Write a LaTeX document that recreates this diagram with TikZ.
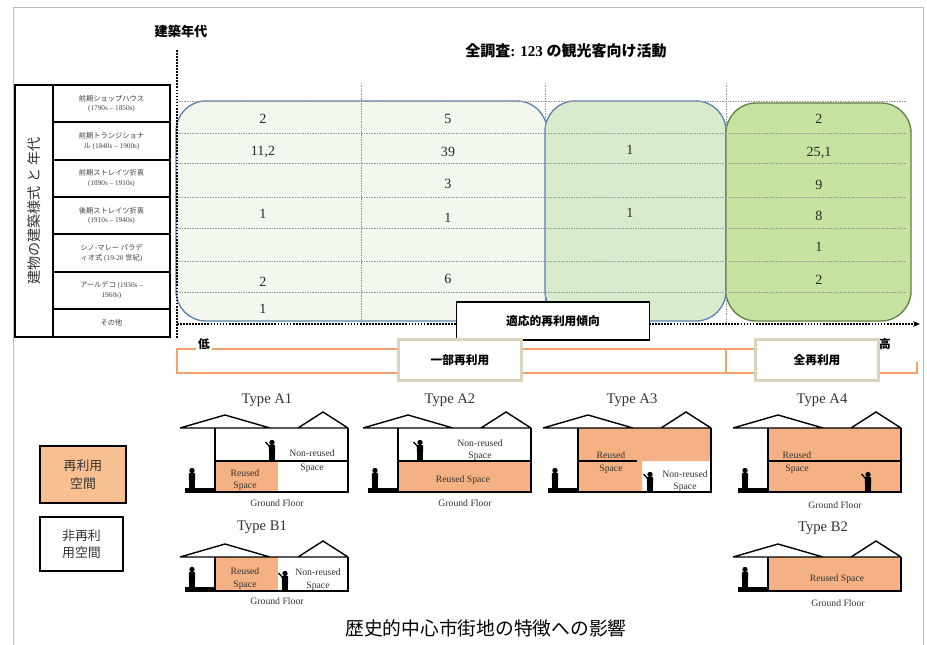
\documentclass[tikz,border=0pt]{standalone}
\usepackage{fontspec}
\setmainfont{Liberation Serif}
\newfontfamily\jp{Noto Sans CJK JP}
\usetikzlibrary{arrows.meta}

\definecolor{pale}{HTML}{F3F8EF}
\definecolor{midgreen}{HTML}{D9EBCD}
\definecolor{fullgreen}{HTML}{C6E3A2}
\definecolor{boxblue}{HTML}{5B80AC}
\definecolor{boxdark}{HTML}{5E8040}
\definecolor{reuse}{HTML}{F4B183}
\definecolor{reusekey}{HTML}{F8C090}
\definecolor{bracket}{HTML}{F3A46C}
\definecolor{beige}{HTML}{D9D4BF}
\definecolor{framegray}{HTML}{BDBDBD}

\begin{document}
\begin{tikzpicture}[x=0.03cm, y=-0.03cm,
    zone/.style={rounded corners=0.9cm, line width=1.1pt},
    gridline/.style={black!40, line width=0.6pt, dash pattern=on 0.7pt off 0.7pt},
    axis/.style={line width=2.3pt, dash pattern=on 1.5pt off 1.1pt},
    count/.style={font=\fontsize{12}{14}\selectfont, text=black!85},
    rowcell/.style={draw, line width=1.6pt, minimum width=3.51cm, minimum height=1.12cm, align=center, text=black!75, inner sep=1pt, font=\fontsize{6.2}{8.2}\selectfont},
    tag/.style={draw=beige, line width=1.8pt, fill=white, minimum width=3.69cm, minimum height=1.23cm, font=\jp\bfseries\fontsize{10}{12}\selectfont},
    key/.style={draw, line width=1.8pt, align=center, font=\jp\fontsize{11}{15}\selectfont, text=black!80},
    typelabel/.style={font=\fontsize{12.5}{14}\selectfont, text=black!80},
    note/.style={font=\fontsize{8.3}{8.6}\selectfont, text=black!80, align=center, inner sep=0pt},
    wall/.style={line width=1.6pt},
    roof/.style={line width=1.2pt},
    roofline/.pic={
        \draw[roof] (0,0) -- (45,-13) -- (90,0) (118,0) -- (143,-16) -- (168,0) (0,0) -- (168,0);
    },
    person/.pic={
        \fill (0,-17.5) circle (2.7);
        \fill[rounded corners=0.6pt] (-3.2,-14.8) rectangle (3.2,-7);
        \fill (-2.8,-7.5) rectangle (-0.4,0);
        \fill (0.4,-7.5) rectangle (2.8,0);
    },
    waver/.pic={
        \fill (0,-17.5) circle (2.7);
        \fill[rounded corners=0.6pt] (-3.2,-14.8) rectangle (3.2,-7);
        \fill (-2.8,-7.5) rectangle (-0.4,0);
        \fill (0.4,-7.5) rectangle (2.8,0);
        \draw[line width=1.1pt] (-2.4,-13.5) -- (-6.5,-18);
    }
]
\useasboundingbox (0,0) rectangle (927,644);

% page frame
\draw[framegray, line width=0.8pt] (13,660) -- (13,7) -- (923,7) -- (923,660);

% headings
\node[font=\jp\bfseries\fontsize{11.3}{13}\selectfont] (era) at (181,31) {建築年代};
\node[font=\fontsize{12.8}{15}\selectfont\bfseries] (survey) at (566,51)
    {{\jp 全調査}: 123 {\jp の観光客向け活動}};

% reuse zones
\draw[zone, fill=pale, draw=boxblue] (176,101) rectangle (547,321);
\draw[zone, fill=midgreen, draw=boxblue] (545,101) rectangle (726,321);
\draw[zone, fill=fullgreen, draw=boxdark] (726,103) rectangle (911,321);

% grid
\foreach \y in {101,133,163,197,228,261,292}
    \draw[gridline] (177,\y) -- (906,\y);
\foreach \x in {361,545,726}
    \draw[gridline] (\x,83) -- (\x,324);

% axes
\coordinate (origin) at (177,324);
\coordinate (ytop) at (177,50);
\coordinate (ybot) at (177,338);
\coordinate (xend) at (920,324);
\draw[axis] (ybot) -- (ytop);
\draw[axis, -{Stealth[length=6pt, width=5pt]}] (origin) -- (xend);

% counts per column
\foreach \n/\y/\v in {a/119/2, b/152/{11,2}, d/214/1, f/282/2, g/309/1}
    \node[count] (low\n) at (263,\y) {\v};
\foreach \n/\y/\v in {a/119/5, b/152/39, c/184/3, d/218/1, f/279/6}
    \node[count] (mid\n) at (448,\y) {\v};
\foreach \n/\y/\v in {b/150/1, d/213/1}
    \node[count] (upp\n) at (630,\y) {\v};
\foreach \n/\y/\v in {a/119/2, b/153/{25,1}, c/185/9, d/216/8, e/247/1, f/280/2}
    \node[count] (top\n) at (819,\y) {\v};

% building styles
\node[draw, line width=1.6pt, rotate=90, minimum width=7.56cm, minimum height=1.14cm,
    font=\jp\fontsize{12}{14}\selectfont, text=black!80] (stylecol) at (34,211) {建物の建築様式 と 年代};
\node[rowcell] (row1) at (111.5,103.7) {{\jp 前期ショップハウス}\\(1790s – 1850s)};
\node[rowcell] (row2) at (111.5,141) {{\jp 前期トランジショナ}\\{\jp ル} (1840s – 1900s)};
\node[rowcell] (row3) at (111.5,178.3) {{\jp 前期ストレイツ折衷}\\(1890s – 1910s)};
\node[rowcell] (row4) at (111.5,215.7) {{\jp 後期ストレイツ折衷}\\(1910s – 1940s)};
\node[rowcell] (row5) at (111.5,253) {{\jp シノ-マレー パラデ}\\{\jp ィオ式} (19-20 {\jp 世紀})};
\node[rowcell] (row6) at (111.5,290.3) {{\jp アールデコ} (1930s –\\1960s)};
\node[rowcell, minimum height=0.84cm] (row7) at (111.5,323) {{\jp その他}};

% reuse scale
\draw[bracket, line width=1.2pt] (880,349) -- (177,349) -- (177,373) -- (917,373) -- (917,362);
\draw[bracket, line width=1.2pt] (726,349) -- (726,373);
\node[fill=white, inner sep=2pt, font=\jp\bfseries\fontsize{10}{12}\selectfont] (low) at (204,344) {低};
\node[font=\jp\bfseries\fontsize{10}{12}\selectfont] (high) at (885,344) {高};
\node[draw, line width=1.4pt, fill=white, minimum width=5.79cm, minimum height=1.14cm,
    font=\jp\bfseries\fontsize{10}{12}\selectfont] (trend) at (553,321) {適応的再利用傾向};
\node[tag] (partial) at (460,360) {一部再利用};
\node[tag] (full) at (817,360) {全再利用};

% legend
\node[key, fill=reusekey, minimum width=2.58cm, minimum height=1.71cm] (reusedkey) at (83,474.5) {再利用\\空間};
\node[key, fill=white, minimum width=2.49cm, minimum height=1.62cm] (plainkey) at (81.5,544) {非再利\\用空間};

% Type A1
\begin{scope}[shift={(180,428)}]
    \node[typelabel] (typeA1) at (87,-28) {Type A1};
    \fill[reuse] (35,33) rectangle (98,64);
    \pic at (0,0) {roofline};
    \draw[wall] (35,0) -- (35,64) -- (168,64) -- (168,0);
    \draw[wall] (35,33) -- (168,33);
    \fill (5,60) rectangle (35,65);
    \pic at (12,60) {person};
    \pic at (92,32) {waver};
    \node[note] (reusedA1) at (65,52) {Reused\\[2pt]Space};
    \node[note] (nonA1) at (132,33) {Non-reused\\[3pt]Space};
    \node[note] (floorA1) at (97,75) {Ground Floor};
\end{scope}

% Type A2
\begin{scope}[shift={(363,428)}]
    \node[typelabel] (typeA2) at (87,-28) {Type A2};
    \fill[reuse] (35,33) rectangle (168,64);
    \pic at (0,0) {roofline};
    \draw[wall] (35,0) -- (35,64) -- (168,64) -- (168,0);
    \draw[wall] (35,33) -- (168,33);
    \fill (5,60) rectangle (35,65);
    \pic at (12,60) {person};
    \pic at (57,32) {waver};
    \node[note] (reusedA2) at (100,52) {Reused Space};
    \node[note] (nonA2) at (117,22) {Non-reused\\[2pt]Space};
    \node[note] (floorA2) at (102,75) {Ground Floor};
\end{scope}

% Type A3
\begin{scope}[shift={(543,428)}]
    \node[typelabel] (typeA3) at (89,-28) {Type A3};
    \fill[reuse] (35,0) rectangle (168,33) (35,33) rectangle (99,64);
    \pic at (0,0) {roofline};
    \draw[wall] (35,0) -- (35,64) -- (168,64) -- (168,0);
    \draw[wall] (35,33) -- (94,33);
    \fill (5,60) rectangle (35,65);
    \pic at (12,60) {person};
    \pic at (107,64) {waver};
    \node[note] (reusedA3) at (68,34.5) {Reused\\[2pt]Space};
    \node[note] (nonA3) at (142,53) {Non-reused\\[2pt]Space};
\end{scope}

% Type A4
\begin{scope}[shift={(733,428)}]
    \node[typelabel] (typeA4) at (89,-28) {Type A4};
    \fill[reuse] (35,0) rectangle (168,64);
    \pic at (0,0) {roofline};
    \draw[wall] (35,0) -- (35,64) -- (168,64) -- (168,0);
    \draw[wall] (35,33) -- (168,33);
    \fill (5,60) rectangle (35,65);
    \pic at (12,60) {person};
    \pic at (135,64) {waver};
    \node[note] (reusedA4) at (64,34.5) {Reused\\[2pt]Space};
    \node[note] (floorA4) at (102,77) {Ground Floor};
\end{scope}

% Type B1
\begin{scope}[shift={(180,557)}]
    \node[typelabel] (typeB1) at (82,-30) {Type B1};
    \fill[reuse] (35,0) rectangle (98,34);
    \pic at (0,0) {roofline};
    \draw[wall] (35,0) -- (35,34) -- (168,34) -- (168,0);
    \fill (5,30) rectangle (35,35);
    \pic at (12,30) {person};
    \pic at (105,34) {waver};
    \node[note] (reusedB1) at (65,21.5) {Reused\\[2pt]Space};
    \node[note] (nonB1) at (138,22.5) {Non-reused\\[2pt]Space};
    \node[note] (floorB1) at (97,44) {Ground Floor};
\end{scope}

% Type B2
\begin{scope}[shift={(733,557)}]
    \node[typelabel] (typeB2) at (90,-29) {Type B2};
    \fill[reuse] (35,0) rectangle (168,34);
    \pic at (0,0) {roofline};
    \draw[wall] (35,0) -- (35,34) -- (168,34) -- (168,0);
    \fill (5,30) rectangle (35,35);
    \pic at (12,30) {person};
    \node[note] (reusedB2) at (104,22) {Reused Space};
    \node[note] (floorB2) at (105,46) {Ground Floor};
\end{scope}

% caption
\node[font=\jp\fontsize{16}{18}\selectfont] (impact) at (486,628) {歴史的中心市街地の特徴への影響};

\end{tikzpicture}
\end{document}
